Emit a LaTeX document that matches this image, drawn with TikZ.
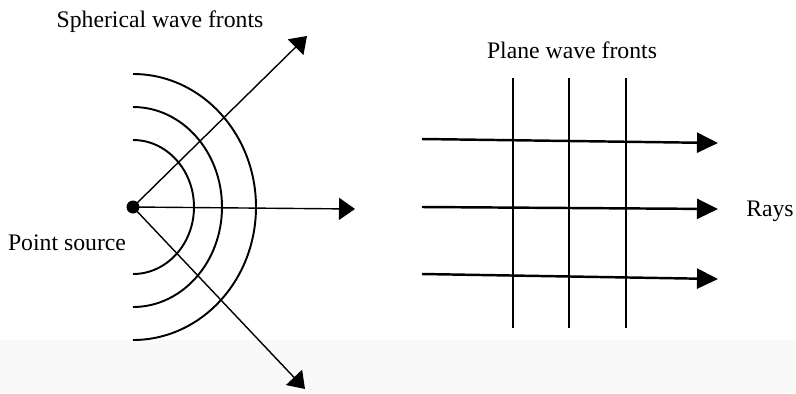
\documentclass[tikz,border=0pt]{standalone}
\usepackage{fontspec}
\setmainfont{Liberation Serif}
\usetikzlibrary{arrows.meta, positioning}

\begin{document}
\begin{tikzpicture}[
    x=0.02cm, y=-0.02cm,
    lbl/.style={font=\fontsize{13.5}{16}\selectfont, inner sep=0pt},
    ray/.style={-{Triangle[length=0.32cm, width=0.44cm]}, line width=0.8pt},
    pray/.style={-{Triangle[length=0.42cm, width=0.4cm]}, line width=1.4pt},
    front/.style={line width=1.1pt},
]
  \fill[black!2.5] (0,340) rectangle (796,393);
  \useasboundingbox (0,0) rectangle (796,393);

  % point source with spherical fronts
  \node[circle, fill, inner sep=0pt, minimum size=0.26cm] (src) at (133,207) {};
  \foreach \rx/\ry in {61/67, 89/100, 123/133}
    \draw[front] (133,207+\ry) arc[start angle=90, end angle=-90, x radius=\rx, y radius=\ry];

  \coordinate (tipup) at (307,36);
  \coordinate (tipmid) at (355,209);
  \coordinate (tipdn) at (305,389);
  \draw[ray] (src.center) -- (tipup);
  \draw[ray] (src.center) -- (tipmid);
  \draw[ray] (src.center) -- (tipdn);

  \node[lbl] (sphlbl) at (160,22) {Spherical wave fronts};
  \node[lbl] (srclbl) at (67,243) {Point source};

  % plane fronts
  \foreach \x in {513, 569, 626}
    \draw[front] (\x,78) -- (\x,328);
  \foreach \i/\ya/\yb in {1/139/143, 2/207/209, 3/274/279} {
    \coordinate (rs\i) at (422,\ya);
    \coordinate (re\i) at (718,\yb);
    \draw[pray] (rs\i) -- (re\i);
  }

  \node[lbl] (plnlbl) at (572,50) {Plane wave fronts};
  \node[lbl] (raylbl) at (770,211) {Rays};
\end{tikzpicture}
\end{document}
